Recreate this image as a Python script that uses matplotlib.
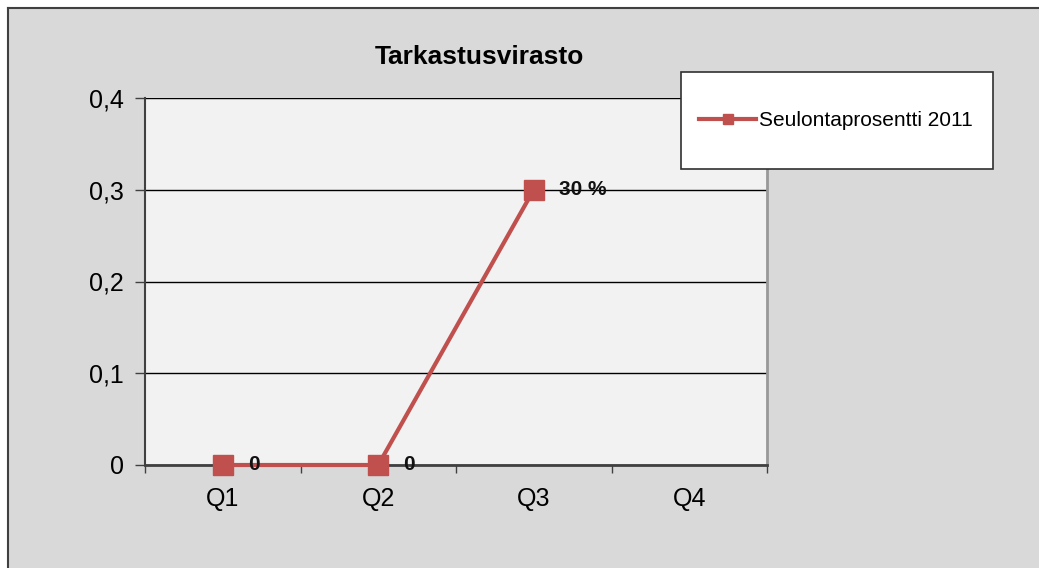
import numpy as np
import matplotlib
matplotlib.use("Agg")
import matplotlib.pyplot as plt
from matplotlib.patches import Rectangle
from matplotlib.lines import Line2D

plt.rcParams['font.family'] = ['Liberation Sans', 'DejaVu Sans']

# data
quarters = ["Q1", "Q2", "Q3", "Q4"]
values = [0, 0, 0.3, np.nan]
point_labels = ["0", "0", "30 %", ""]
y_ticks = [0, 0.1, 0.2, 0.3, 0.4]
y_tick_labels = ["0", "0,1", "0,2", "0,3", "0,4"]
series_name = "Seulontaprosentti 2011"
title = "Tarkastusvirasto"

W, H = 1039, 568
red = "#c0504d"

fig = plt.figure(figsize=(W / 100, H / 100), dpi=100, facecolor="white")

# grey chart area with border on left/top
fig.patches.append(Rectangle((8 / W, 0), 1, 1 - 8 / H, transform=fig.transFigure,
                             facecolor="#d9d9d9", edgecolor="none", zorder=-2))
fig.lines.append(Line2D([7.5 / W, 7.5 / W], [0, 1 - 7.5 / H], transform=fig.transFigure,
                        color="#404040", lw=1.5, zorder=-1))
fig.lines.append(Line2D([7.5 / W, 1], [1 - 7.5 / H, 1 - 7.5 / H], transform=fig.transFigure,
                        color="#404040", lw=1.5, zorder=-1))

ax = fig.add_axes([145 / W, 1 - 465 / H, 622 / W, 367 / H])
ax.set_facecolor("#f2f2f2")

x = np.arange(len(quarters))
ax.plot(x, values, color=red, lw=3, marker="s", markersize=15,
        markerfacecolor=red, markeredgecolor=red, zorder=4, clip_on=False)

for xi, v, lab in zip(x, values, point_labels):
    if lab:
        ax.annotate(lab, (xi, v), xytext=(18, 0), textcoords="offset points",
                    ha="left", va="center", fontsize=15, fontweight="bold",
                    color="#111111", zorder=5)

ax.set_xlim(-0.5, 3.5)
ax.set_ylim(0, 0.4)
ax.set_yticks(y_ticks)
ax.set_yticklabels(y_tick_labels, fontsize=18)
ax.set_xticks(x)
ax.set_xticklabels(quarters, fontsize=18)
ax.set_xticks(np.arange(-0.5, 4, 1), minor=True)
ax.tick_params(axis="x", which="major", length=0, pad=16)
ax.tick_params(axis="x", which="minor", length=6, width=1, color="#404040", direction="out")
ax.tick_params(axis="y", length=7, width=1, color="#404040", direction="out", pad=8)

ax.grid(axis="y", color="black", lw=1)
ax.set_axisbelow(True)
ax.spines["top"].set_visible(False)
ax.spines["left"].set_color("#404040")
ax.spines["left"].set_linewidth(1.5)
ax.spines["bottom"].set_color("#404040")
ax.spines["bottom"].set_linewidth(2)
ax.spines["right"].set_color("#999999")
ax.spines["right"].set_linewidth(2)

fig.text(479 / W, 1 - 57 / H, title, ha="center", va="center",
         fontsize=19, fontweight="bold")

# legend box
fig.patches.append(Rectangle((681 / W, 1 - 169 / H), 312 / W, 97 / H,
                             transform=fig.transFigure, facecolor="white",
                             edgecolor="#303030", lw=1.2, zorder=3))
handle = Line2D([], [], color=red, lw=3, marker="s", markersize=7)
leg = fig.legend([handle], [series_name], loc="center left",
                 bbox_to_anchor=(699 / W, 1 - 121 / H), frameon=False,
                 fontsize=15, handlelength=2.75, handletextpad=0.15,
                 borderpad=0, borderaxespad=0)
leg.set_zorder(6)

fig.savefig("out.png", dpi=100, facecolor=fig.get_facecolor())
